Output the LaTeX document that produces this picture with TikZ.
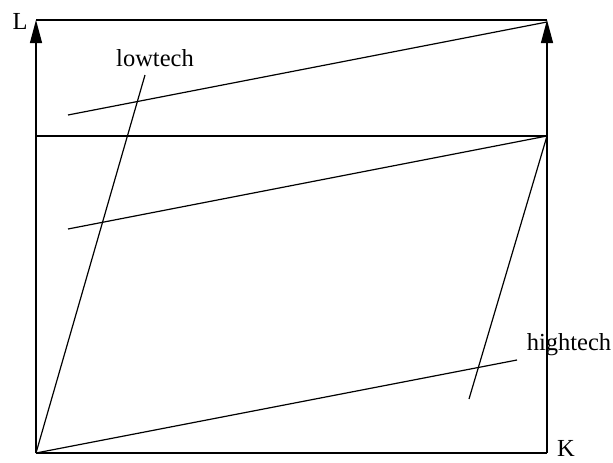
\documentclass[tikz,border=0pt]{standalone}
\usepackage{fontspec}
\setmainfont{Liberation Serif}
\usetikzlibrary{arrows.meta}
\begin{document}
\begin{tikzpicture}[x=1pt,y=-1pt,line width=1.2pt,
  lbl/.style={font=\fontsize{24.5}{28}\selectfont,inner sep=0pt},
  axisarrow/.style={-{Triangle[length=23pt,width=12pt]}}]
\useasboundingbox (0,0) rectangle (613,463);
\coordinate (O) at (36,453);
\coordinate (KR) at (547,453);
\coordinate (LT) at (36,20);
\coordinate (RT) at (547,20);
\coordinate (RTa) at (547,22);
\coordinate (ML) at (36,136);
\coordinate (MR) at (547,136);
\coordinate (A1) at (68,115);
\coordinate (A2) at (68,229);
\coordinate (A3) at (517,360);
\coordinate (LW) at (145,75);
\coordinate (HW) at (469,399);
% frame
\draw (O) -- (KR);
\draw[axisarrow] (O) -- (LT);
\draw[axisarrow] (KR) -- (RT);
\draw (LT) -- (RT);
\draw (ML) -- (MR);
% isoquant-like lines
\draw (A1) -- (RTa);
\draw (A2) -- (MR);
\draw (O) -- (A3);
% tech rays
\draw (O) -- (LW);
\draw (MR) -- (HW);
% labels
\node[lbl] (L) at (20,21) {L};
\node[lbl,anchor=base] (K) at (566,456) {K};
\node[lbl] (low) at (155,58) {lowtech};
\node[lbl] (high) at (569,345) {hightech};
\end{tikzpicture}
\end{document}
